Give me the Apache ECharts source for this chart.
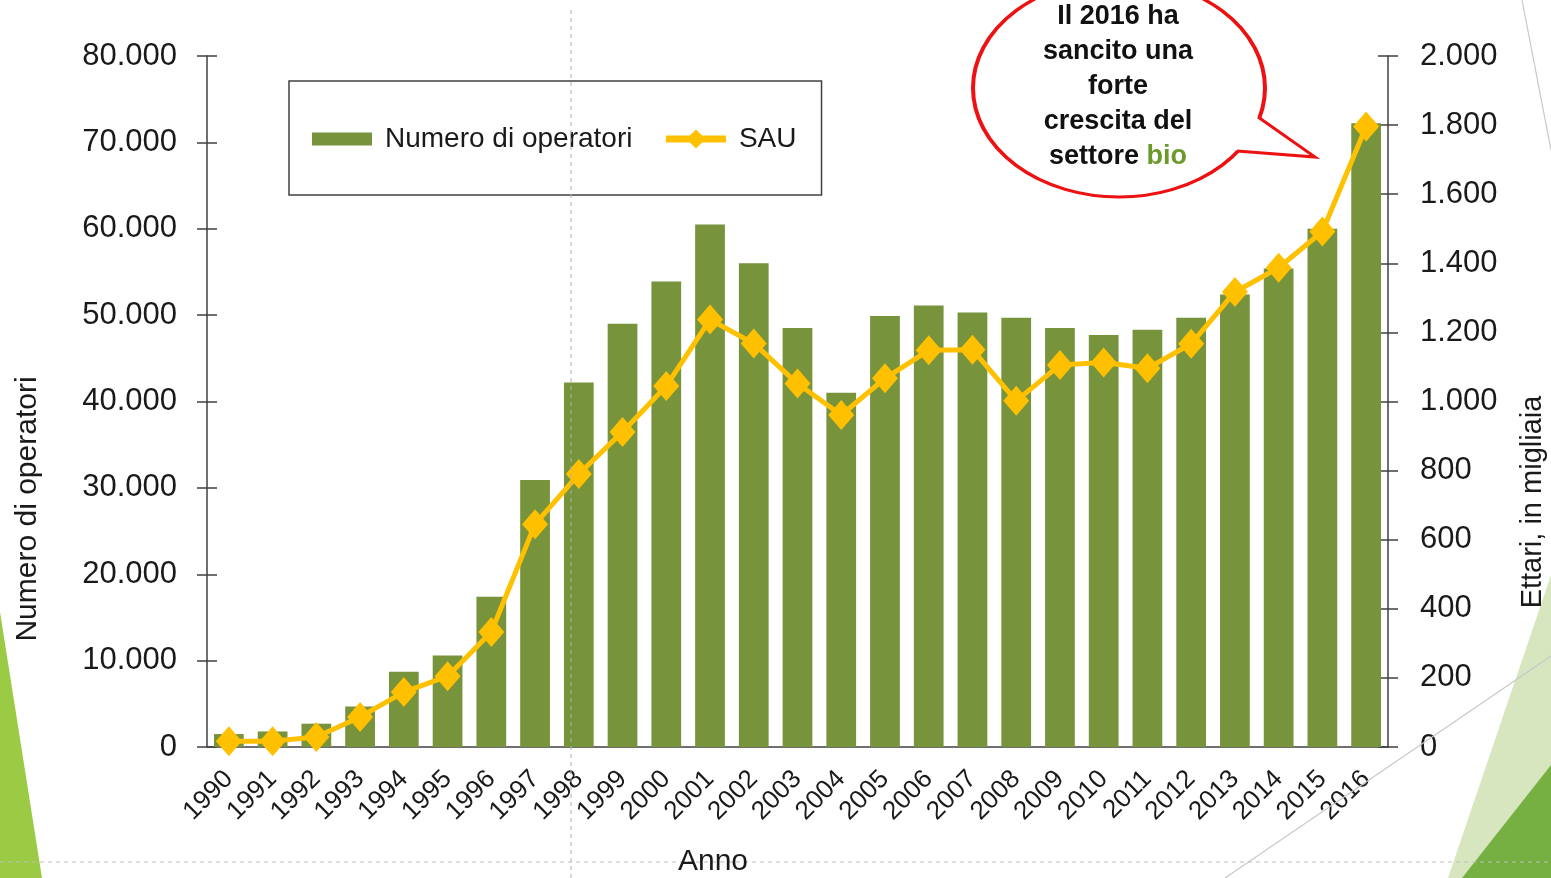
<!DOCTYPE html>
<html>
<head>
<meta charset="UTF-8">
<title>Operatori e SAU bio</title>
<style>
  html, body { margin: 0; padding: 0; background: #fff; }
  #chart { width: 1551px; height: 878px; }
</style>
</head>
<body>
<div id="chart"></div>
<script src="https://cdn.jsdelivr.net/npm/echarts@6/dist/echarts.min.js"></script>
<script>
// anni
var anni = ['1990','1991','1992','1993','1994','1995','1996','1997','1998','1999','2000','2001','2002',
  '2003','2004','2005','2006','2007','2008','2009','2010','2011','2012','2013','2014','2015','2016'];
// numero di operatori
var operatori = [1500, 1800, 2700, 4700, 8700, 10600, 17400, 30900, 42200, 49000, 53900, 60500, 56000,
  48500, 41000, 49900, 51100, 50300, 49700, 48500, 47700, 48300, 49700, 52400, 55400, 60000, 72200];
// SAU, migliaia di ettari
var sau = [17, 17, 29, 87, 159, 205, 333, 645, 790, 912, 1045, 1237, 1168,
  1052, 961, 1067, 1148, 1150, 1002, 1106, 1113, 1096, 1167, 1317, 1387, 1492, 1796];

var chart = echarts.init(document.getElementById('chart'));
var font = 'Liberation Sans, Arial, sans-serif';
var axisCol = '#404040';

//separatore delle migliaia col punto
function fmt(v) {
  return String(v).replace(/\B(?=(\d{3})+(?!\d))/g, '.');
}

//asse senza etichette, solo per le tacche verso l'interno
function tickAxis(pos, max, step) {
  return {
    type: 'value', position: pos, min: 0, max: max, interval: step,
    axisLine: { show: false },
    axisTick: { show: true, inside: true, length: 10, lineStyle: { color: axisCol, width: 1.5 } },
    axisLabel: { show: false },
    splitLine: { show: false }
  };
}

var option = {
  backgroundColor: '#fff',
  animation: false,
  grid: { left: 207, right: 163, top: 56, bottom: 131 },
  legend: {
    left: 289, top: 81,
    padding: [44, 25, 42, 23],
    borderColor: axisCol, borderWidth: 1.5,
    itemWidth: 60, itemHeight: 24, itemGap: 30,
    textStyle: { fontFamily: font, fontSize: 28, color: '#1a1a1a', padding: [0, 0, 0, 8] },
    data: [
      { name: 'Numero di operatori', icon: 'path://M0,0L60,0L60,13L0,13Z M0,-5.5L0.01,-5.5Z M0,18.5L0.01,18.5Z' },
      { name: 'SAU', lineStyle: { width: 7, color: '#FFC000' } }
    ]
  },
  xAxis: [{
    type: 'category', data: anni, position: 'bottom', boundaryGap: true,
    axisLine: { lineStyle: { color: axisCol, width: 1.5 } },
    axisTick: { length: 10, lineStyle: { color: axisCol, width: 1.5 } },
    axisLabel: { rotate: 45, margin: 28, fontFamily: font, fontSize: 26, color: '#1a1a1a', interval: 0 }
  }, {
    type: 'category', data: anni, position: 'bottom', boundaryGap: true,
    axisLine: { show: false },
    axisTick: { inside: true, length: 10, lineStyle: { color: axisCol, width: 1.5 } },
    axisLabel: { show: false }
  }],
  yAxis: [{
    type: 'value', position: 'left', min: 0, max: 80000, interval: 10000,
    axisLine: { show: true, lineStyle: { color: axisCol, width: 1.5 } },
    axisTick: { show: true, length: 10, lineStyle: { color: axisCol, width: 1.5 } },
    axisLabel: { formatter: fmt, margin: 30, fontFamily: font, fontSize: 31, color: '#1a1a1a' },
    splitLine: { show: false }
  }, {
    type: 'value', position: 'right', min: 0, max: 2000, interval: 200,
    axisLine: { show: true, lineStyle: { color: axisCol, width: 1.5 } },
    axisTick: { show: true, length: 10, lineStyle: { color: axisCol, width: 1.5 } },
    axisLabel: { formatter: fmt, margin: 32, fontFamily: font, fontSize: 31, color: '#1a1a1a' },
    splitLine: { show: false }
  },
  tickAxis('left', 80000, 10000),
  tickAxis('right', 2000, 200)
  ],
  series: [{
    name: 'Numero di operatori', type: 'bar', yAxisIndex: 0,
    data: operatori, barCategoryGap: '32%',
    itemStyle: { color: '#77933C' }
  }, {
    name: 'SAU', type: 'line', yAxisIndex: 1,
    data: sau, symbol: 'diamond', symbolSize: [26, 30],
    lineStyle: { color: '#FFC000', width: 5 },
    itemStyle: { color: '#FFC000' }
  }],
  graphic: [
    // decorazioni della slide
    { type: 'polygon', z: 0, shape: { points: [[0, 612], [42, 878], [0, 878]] }, style: { fill: '#9BCB45' } },
    { type: 'polygon', z: 0, shape: { points: [[1551, 575], [1551, 878], [1448, 878]] }, style: { fill: '#D8E6BF' } },
    { type: 'polygon', z: 0, shape: { points: [[1551, 765], [1551, 878], [1462, 878]] }, style: { fill: '#76B043' } },
    { type: 'line', z: 1, shape: { x1: 1225, y1: 878, x2: 1551, y2: 656 }, style: { stroke: '#c8c8c8', lineWidth: 1.2 } },
    { type: 'line', z: 1, shape: { x1: 1522, y1: 0, x2: 1551, y2: 150 }, style: { stroke: '#c8c8c8', lineWidth: 1.2 } },
    { type: 'line', z: 1, shape: { x1: 0, y1: 862, x2: 1551, y2: 862 }, style: { stroke: '#bdbdbd', lineWidth: 1, lineDash: [4, 4] } },
    { type: 'line', z: 10, shape: { x1: 571, y1: 10, x2: 571, y2: 878 }, style: { stroke: '#b0b0b0', lineWidth: 1, lineDash: [4, 4] } },
    // titoli degli assi
    { type: 'text', x: 28, y: 509, rotation: Math.PI / 2,
      style: { text: 'Numero di operatori', fontFamily: font, fontSize: 30, fill: '#1a1a1a', align: 'center', verticalAlign: 'middle' } },
    { type: 'text', x: 1533, y: 502, rotation: Math.PI / 2,
      style: { text: 'Ettari, in migliaia', fontFamily: font, fontSize: 29, fill: '#1a1a1a', align: 'center', verticalAlign: 'middle' } },
    { type: 'text', x: 713, y: 862, z: 11,
      style: { text: 'Anno', fontFamily: font, fontSize: 30, fill: '#1a1a1a', align: 'center', verticalAlign: 'middle' } },
    // fumetto
    { type: 'circle', z: 20, x: 1119, y: 88, scaleX: 146 / 109, scaleY: 1,
      shape: { cx: 0, cy: 0, r: 109 },
      style: { fill: '#fff', stroke: '#EE1111', lineWidth: 3, strokeNoScale: true } },
    { type: 'polygon', z: 21, shape: { points: [[1258, 117], [1315, 157], [1237, 151], [1222, 130]] },
      style: { fill: '#fff' } },
    { type: 'polyline', z: 22, shape: { points: [[1258, 117], [1315, 157], [1237, 151]] },
      style: { stroke: '#EE1111', lineWidth: 3, fill: null } },
    { type: 'text', z: 23, x: 1118, y: 87,
      style: {
        text: 'Il 2016 ha\nsancito una\nforte\ncrescita del\nsettore {g|bio}',
        fontFamily: font, fontSize: 27, fontWeight: 'bold', fill: '#111', lineHeight: 35,
        align: 'center', verticalAlign: 'middle',
        rich: { g: { fill: '#6B9A2A', fontFamily: font, fontSize: 27, fontWeight: 'bold', lineHeight: 35 } }
      } }
  ]
};
chart.setOption(option);
</script>
</body>
</html>
